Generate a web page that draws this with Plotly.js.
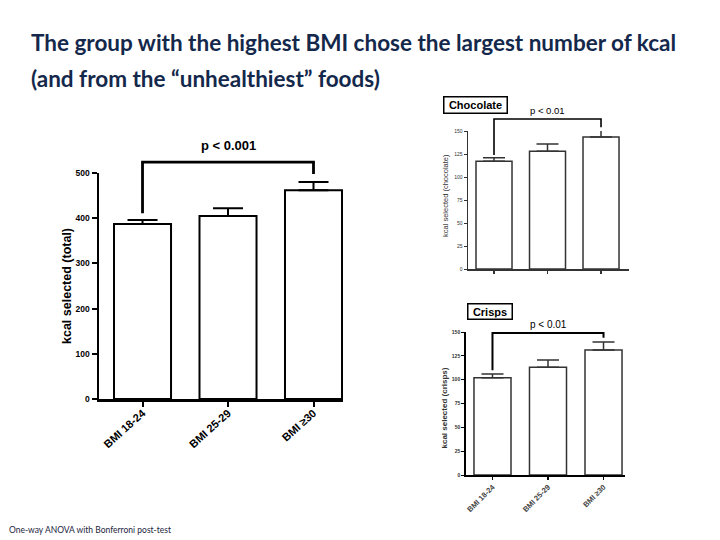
<!DOCTYPE html>
<html><head><meta charset="utf-8">
<script src="https://cdn.plot.ly/plotly-3.0.1.min.js"></script>
<style>html,body{margin:0;padding:0;background:#fff}#chart{width:720px;height:540px}</style>
</head><body><div id="chart"></div>
<script>
// ---- data ----
const categories = ['BMI 18-24', 'BMI 25-29', 'BMI ≥30'];
const totalKcal = [387, 405, 462];
const totalErr = [9, 17, 18];
const chocolateKcal = [117, 128, 143.5];
const chocolateErr = [4, 8, 8.5];
const crispsKcal = [102, 113, 131];
const crispsErr = [4, 7.5, 8.5];
// brackets: [left leg end, top, right leg end]
const totalBracket = [411, 524, 498];
const chocolateBracket = [124, 163, 154];
const crispsBracket = [110, 149, 144];
const pLabels = ['p < 0.001', 'p < 0.01', 'p < 0.01'];
const pLabelY = [560, 172, 158];
const yMax = [500, 150, 150];
const totalTicks = [0, 100, 200, 300, 400, 500];
const smallTicks = [0, 25, 50, 75, 100, 125, 150];
const titleLines = ['The group with the highest BMI chose the largest number of kcal',
                    '(and from the \u201cunhealthiest\u201d foods)'];
const footnote = 'One-way ANOVA with Bonferroni post-test';

const xPos = categories.map((c, i) => i);
const ARIAL = 'Liberation Sans, Arial, sans-serif';
const INK = '#000';
const SOFT = '#333';

function barTrace(vals, errs, xa, ya, lw, ew, ecap, width, col) {
  return {
    type: 'bar', x: xPos, y: vals, xaxis: xa, yaxis: ya, width: width,
    marker: {color: '#fff', line: {color: col, width: lw}},
    error_y: {type: 'data', symmetric: false, array: errs, arrayminus: errs.map(() => 0),
              color: col, thickness: ew, width: ecap},
    hoverinfo: 'skip', showlegend: false
  };
}

const data = [
  barTrace(totalKcal, totalErr, 'x', 'y', 2, 2, 15, 0.667, INK),
  barTrace(chocolateKcal, chocolateErr, 'x2', 'y2', 1.5, 1.5, 11, 0.673, SOFT),
  barTrace(crispsKcal, crispsErr, 'x3', 'y3', 1.5, 1.5, 11, 0.667, SOFT)
];

function bracketPath(b, ymax) {
  return `M 0,${b[0] / ymax} L 0,${b[1] / ymax} L 2,${b[1] / ymax} L 2,${b[2] / ymax}`;
}

const shapes = [
  {type: 'path', xref: 'x', yref: 'y domain', path: bracketPath(totalBracket, yMax[0]), line: {color: INK, width: 2.8}},
  {type: 'path', xref: 'x2', yref: 'y2 domain', path: bracketPath(chocolateBracket, yMax[1]), line: {color: INK, width: 1.6}},
  {type: 'path', xref: 'x3', yref: 'y3 domain', path: bracketPath(crispsBracket, yMax[2]), line: {color: INK, width: 2}}
];

const C = {xanchor: 'center', yanchor: 'middle', showarrow: false};
const annotations = [
  Object.assign({text: pLabels[0], xref: 'x', yref: 'y domain', x: 1, y: pLabelY[0] / yMax[0],
   font: {family: ARIAL, size: 13, weight: 'bold', color: INK}}, C),
  Object.assign({text: pLabels[1], xref: 'x2', yref: 'y2 domain', x: 1, y: pLabelY[1] / yMax[1],
   font: {family: ARIAL, size: 9.5, color: INK}}, C),
  Object.assign({text: pLabels[2], xref: 'x3', yref: 'y3 domain', x: 1, y: pLabelY[2] / yMax[2],
   font: {family: ARIAL, size: 10, color: INK}}, C),
  // axis titles
  Object.assign({text: 'kcal selected (total)', xref: 'paper', yref: 'paper', x: 67 / 720, y: 1 - 286 / 540, textangle: -90,
   font: {family: ARIAL, size: 12.5, weight: 'bold', color: INK}}, C),
  Object.assign({text: 'kcal selected (chocolate)', xref: 'paper', yref: 'paper', x: 446 / 720, y: 1 - 196 / 540, textangle: -90,
   font: {family: ARIAL, size: 7.5, color: SOFT}}, C),
  Object.assign({text: 'kcal selected (crisps)', xref: 'paper', yref: 'paper', x: 443.5 / 720, y: 1 - 408 / 540, textangle: -90,
   font: {family: ARIAL, size: 8, weight: 'bold', color: SOFT}}, C),
  // boxed panel labels
  Object.assign({text: 'Chocolate', xref: 'paper', yref: 'paper', x: 475 / 720, y: 1 - 104.5 / 540,
   font: {family: ARIAL, size: 11, weight: 'bold', color: INK}, bordercolor: INK, borderwidth: 1.5,
   borderpad: 1, bgcolor: '#fff', width: 60, height: 13}, C),
  Object.assign({text: 'Crisps', xref: 'paper', yref: 'paper', x: 489.5 / 720, y: 1 - 311.5 / 540,
   font: {family: ARIAL, size: 11, weight: 'bold', color: INK}, bordercolor: INK, borderwidth: 1.5,
   borderpad: 1, bgcolor: '#fff', width: 41, height: 12}, C),
  // slide title and footnote
  {text: '<b>' + titleLines[0] + '</b>', xref: 'paper', yref: 'paper', x: 29 / 720, y: 1 - 43 / 540,
   xanchor: 'left', yanchor: 'middle', showarrow: false, font: {family: 'Lato, sans-serif', size: 22.5, color: '#14284b'}},
  {text: '<b>' + titleLines[1] + '</b>', xref: 'paper', yref: 'paper', x: 29 / 720, y: 1 - 79 / 540,
   xanchor: 'left', yanchor: 'middle', showarrow: false, font: {family: 'Lato, sans-serif', size: 22.5, color: '#14284b'}},
  {text: footnote, xref: 'paper', yref: 'paper', x: 7 / 720, y: 1 - 530 / 540,
   xanchor: 'left', yanchor: 'middle', showarrow: false, font: {family: 'Lato, sans-serif', size: 8.5, color: '#1c2540'}}
];

function xAxis(dom, rng, anchor, opts) {
  return Object.assign({
    domain: dom, range: rng, anchor: anchor, tickmode: 'array', tickvals: xPos, ticktext: categories,
    showline: true, linecolor: INK, linewidth: 2, ticks: 'outside', ticklen: 5, tickwidth: 2, tickcolor: INK,
    showgrid: false, zeroline: false, fixedrange: true, automargin: false
  }, opts);
}
function yAxis(dom, rng, anchor, ticks, opts) {
  return Object.assign({
    domain: dom, range: rng, anchor: anchor, tickmode: 'array', tickvals: ticks,
    showline: true, linecolor: INK, linewidth: 2, ticks: 'outside', ticklen: 5, tickwidth: 2, tickcolor: INK,
    showgrid: false, zeroline: false, fixedrange: true, automargin: false
  }, opts);
}

const layout = {
  width: 720, height: 540, margin: {l: 0, r: 0, t: 0, b: 0},
  paper_bgcolor: '#fff', plot_bgcolor: 'rgba(0,0,0,0)', showlegend: false, bargap: 0,
  xaxis: xAxis([99 / 720, 343 / 720], [-0.509, 2.345], 'y',
    {tickangle: -42, ticklabelstandoff: -4, tickfont: {family: ARIAL, size: 11, weight: 'bold', color: INK}, linewidth: 2.5}),
  yaxis: yAxis([1 - 399 / 540, 1 - 173 / 540], [0, yMax[0]], 'x', totalTicks,
    {tickfont: {family: ARIAL, size: 8.5, weight: 'bold', color: INK}, linewidth: 2.5}),
  xaxis2: xAxis([468 / 720, 629 / 720], [-0.486, 2.523], 'y2',
    {showticklabels: false, linewidth: 1.5, tickwidth: 1.2, ticklen: 3, linecolor: SOFT, tickcolor: SOFT}),
  yaxis2: yAxis([1 - 269 / 540, 1 - 131 / 540], [0, yMax[1]], 'x2', smallTicks,
    {tickfont: {family: ARIAL, size: 5, color: SOFT}, linewidth: 1.5, tickwidth: 1, ticklen: 3, linecolor: SOFT, tickcolor: SOFT}),
  xaxis3: xAxis([466 / 720, 625 / 720], [-0.477, 2.387], 'y3',
    {tickangle: -45, tickfont: {family: ARIAL, size: 7.5, weight: 'bold', color: '#444'}, linewidth: 1.8, tickwidth: 1.2, ticklen: 3}),
  yaxis3: yAxis([1 - 475 / 540, 1 - 332 / 540], [0, yMax[2]], 'x3', smallTicks,
    {tickfont: {family: ARIAL, size: 5, weight: 'bold', color: SOFT}, linewidth: 1.8, tickwidth: 1, ticklen: 3}),
  shapes: shapes,
  annotations: annotations
};

Plotly.newPlot('chart', data, layout, {displayModeBar: false, staticPlot: true});
</script>
</body></html>
